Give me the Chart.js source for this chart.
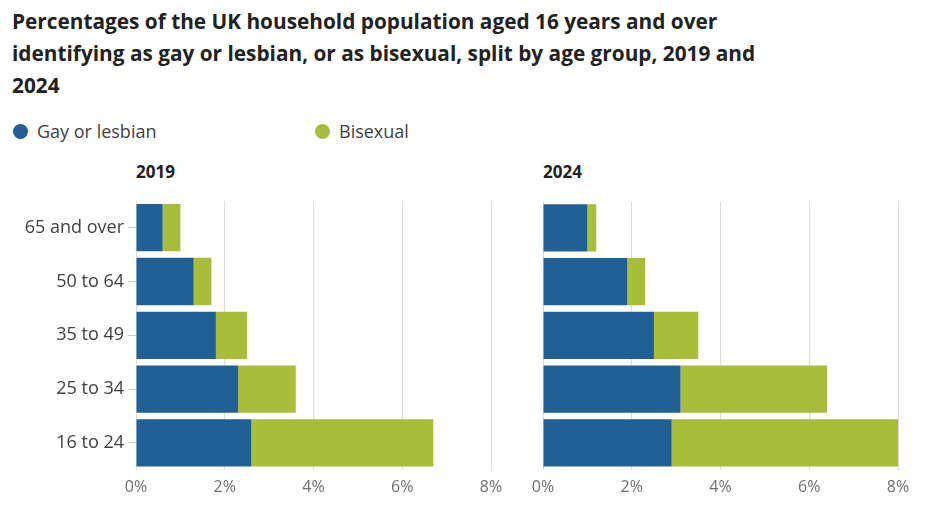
<!DOCTYPE html>
<html>
<head>
<meta charset="utf-8">
<script src="https://cdn.jsdelivr.net/npm/chart.js@4"></script>
<style>
  body { margin: 0; background: #fff; font-family: "Open Sans", sans-serif; }
  #wrap { position: relative; width: 939px; height: 508px; overflow: hidden; }
  .title { position: absolute; left: 12px; top: 5px; width: 900px; font-size: 20.8px; font-weight: 700; line-height: 32px; color: #222; }
  .legend { position: absolute; top: 119px; font-size: 18px; color: #414042; display: flex; align-items: center; }
  .legend span.dot { width: 15px; height: 15px; border-radius: 50%; display: inline-block; margin-right: 9px; }
  .panelTitle { position: absolute; top: 160px; font-size: 17px; font-weight: 700; color: #222; }
  .panel { position: absolute; }
</style>
</head>
<body>
<div id="wrap">
  <div class="title">Percentages of the UK household population aged 16 years and over<br>identifying as gay or lesbian, or as bisexual, split by age group, 2019 and<br>2024</div>
  <div class="legend" style="left:13px"><span class="dot" style="background:#206095"></span>Gay or lesbian</div>
  <div class="legend" style="left:315px"><span class="dot" style="background:#a8bd3a"></span>Bisexual</div>
  <div class="panelTitle" style="left:136px">2019</div>
  <div class="panelTitle" style="left:543px">2024</div>
  <div class="panel" style="left:0; top:186px; height:324px; width:520px"><canvas id="c2019"></canvas></div>
  <div class="panel" style="left:520px; top:190px; height:320px; width:419px"><canvas id="c2024"></canvas></div>
</div>
<script>
const ageGroups = ['65 and over', '50 to 64', '35 to 49', '25 to 34', '16 to 24'];
const gay2019 = [0.6, 1.3, 1.8, 2.3, 2.6];
const bi2019 = [0.4, 0.4, 0.7, 1.3, 4.1];
const gay2024 = [1.0, 1.9, 2.5, 3.1, 2.9];
const bi2024 = [0.2, 0.4, 1.0, 3.3, 5.1];
const xMax = 8;
const xStep = 2;

const blue = '#206095';
const green = '#a8bd3a';

function makePanel(id, gay, bi, showLabels, padding) {
  const ctx = document.getElementById(id).getContext('2d');
  return new Chart(ctx, {
    type: 'bar',
    data: {
      labels: ageGroups,
      datasets: [
        { label: 'Gay or lesbian', data: gay, backgroundColor: blue, barPercentage: 0.88, categoryPercentage: 1 },
        { label: 'Bisexual', data: bi, backgroundColor: green, barPercentage: 0.88, categoryPercentage: 1 }
      ]
    },
    options: {
      indexAxis: 'y',
      responsive: true,
      maintainAspectRatio: false,
      animation: false,
      layout: { padding: padding },
      plugins: { legend: { display: false }, tooltip: { enabled: false } },
      scales: {
        x: {
          stacked: true,
          min: 0,
          max: xMax,
          ticks: {
            stepSize: xStep,
            padding: 8,
            color: '#707071',
            font: { family: 'Open Sans', size: 16 },
            callback: (v) => v + '%'
          },
          grid: { color: '#dcdcdc', drawTicks: false },
          border: { display: false }
        },
        y: {
          stacked: true,
          display: showLabels,
          afterFit: (scale) => { if (showLabels) scale.width = 136; },
          ticks: {
            padding: 4,
            color: '#414042',
            font: { family: 'Open Sans', size: 18 }
          },
          grid: { offset: false, drawOnChartArea: false, tickLength: 8, color: '#cccccc' },
          border: { display: false }
        }
      }
    }
  });
}

document.addEventListener('DOMContentLoaded', () => {
  makePanel('c2019', gay2019, bi2019, true, { top: 0, right: 29, bottom: 5, left: 0 });
  makePanel('c2024', gay2024, bi2024, false, { top: 11, right: 41, bottom: 5, left: 23 });
});
</script>
</body>
</html>
